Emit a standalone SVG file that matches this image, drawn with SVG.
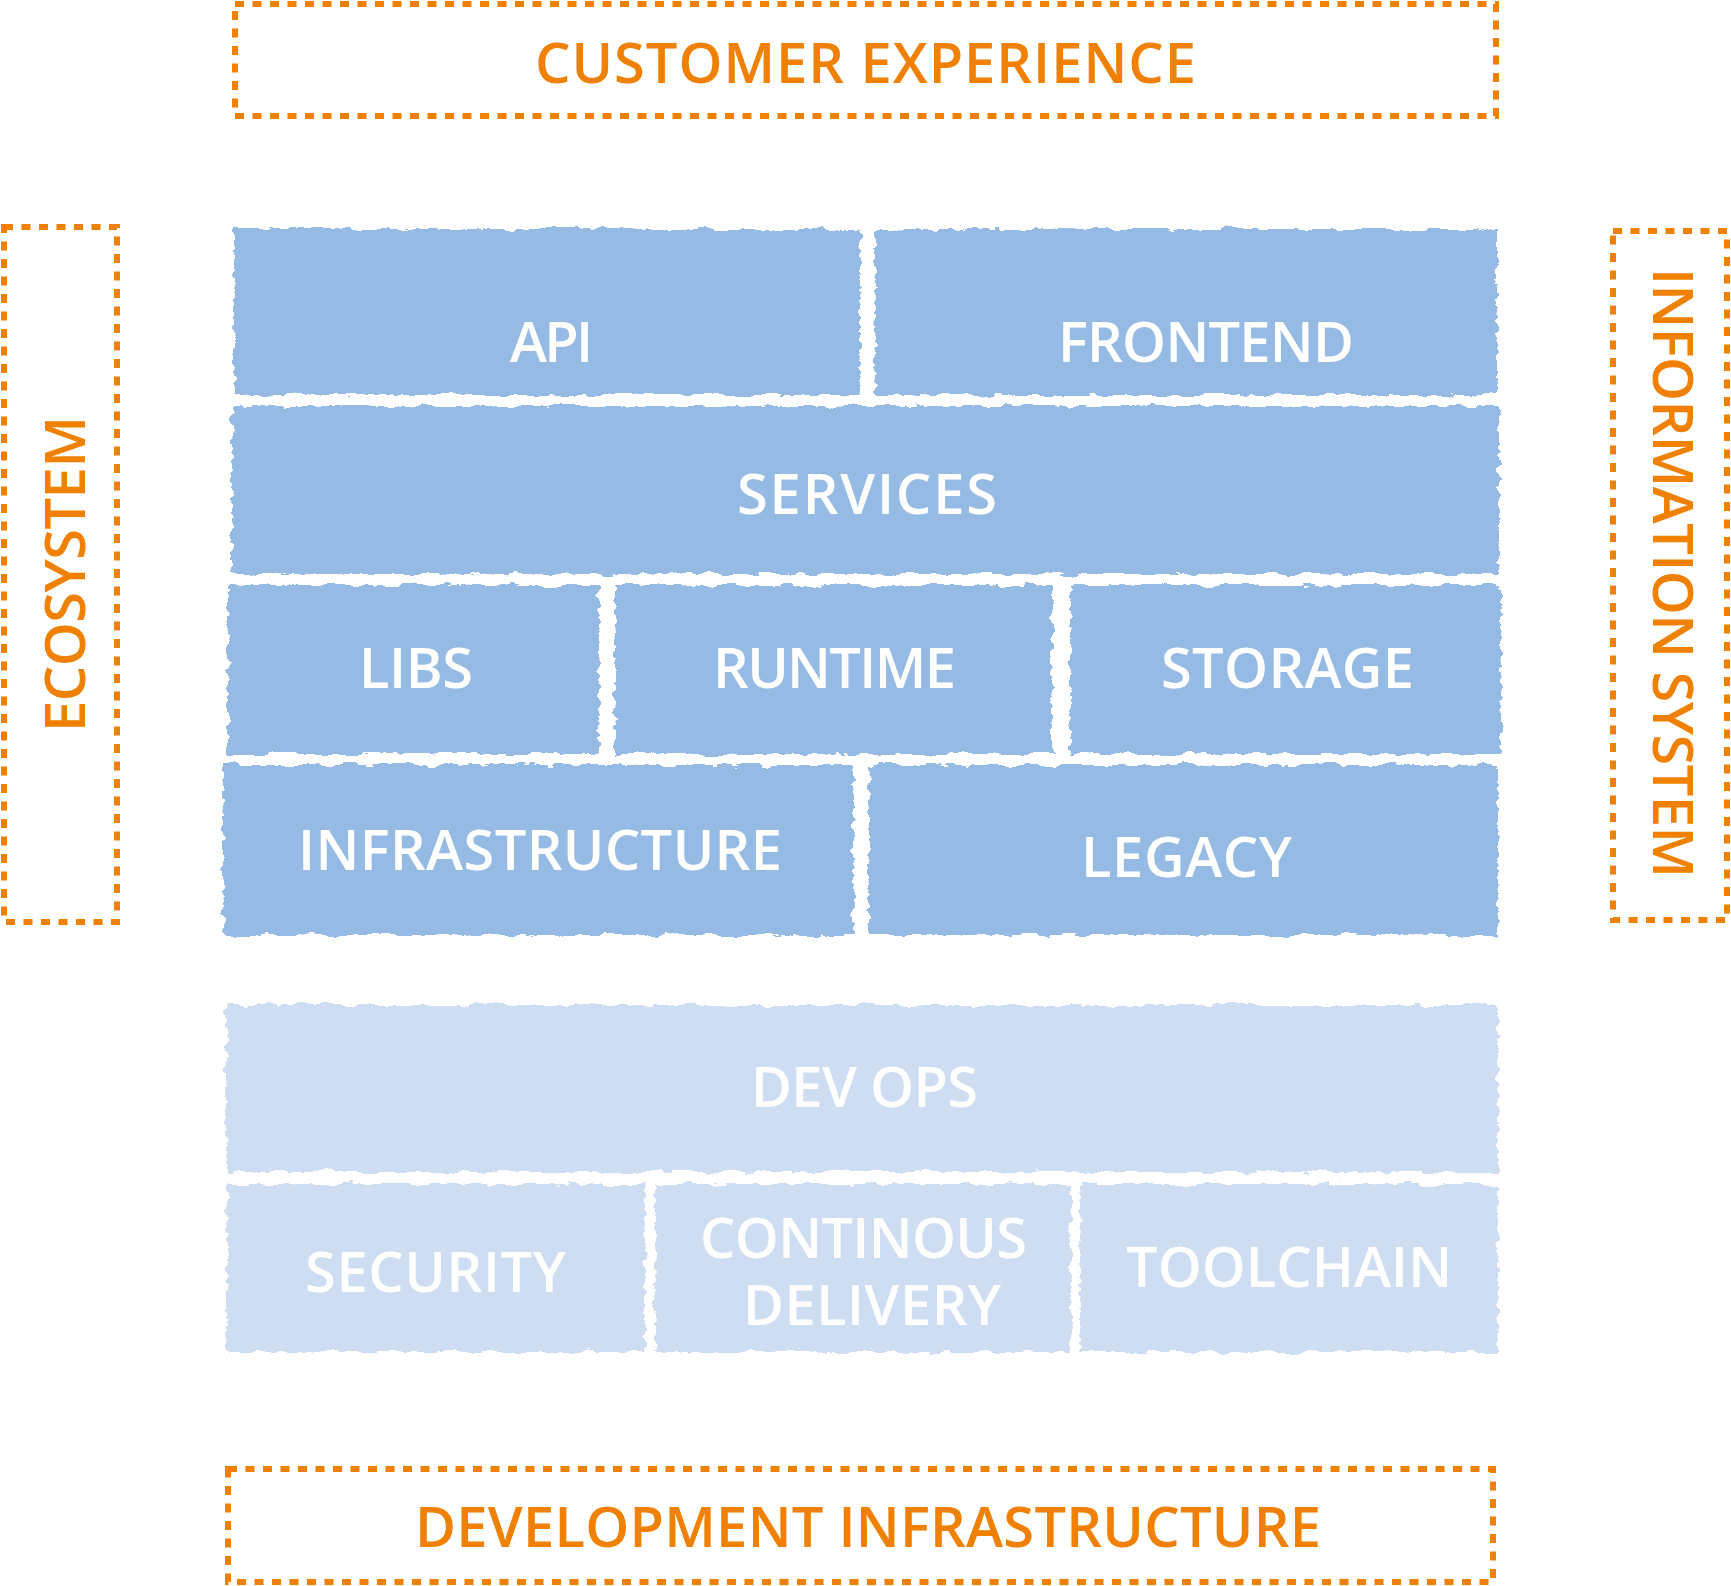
<svg xmlns="http://www.w3.org/2000/svg" width="1731" height="1586" viewBox="0 0 1731 1586">
<style>
.frame{fill:none;stroke:#f08000;stroke-width:6;stroke-dasharray:9 8.5}
.olab{font-family:"Open Sans",Lato,"Liberation Sans",sans-serif;font-weight:600;font-size:56px;fill:#f08000}
.blab{font-family:"Open Sans",Lato,"Liberation Sans",sans-serif;font-weight:600;font-size:56px;fill:#ffffff}
.dark{fill:#95bae4}
.light{fill:#cfddf3}
</style>
<defs>
<filter id="rough" x="-3%" y="-6%" width="106%" height="112%">
<feTurbulence type="fractalNoise" baseFrequency="0.05 0.12" numOctaves="4" seed="7" result="n"/>
<feDisplacementMap in="SourceGraphic" in2="n" scale="10" xChannelSelector="R" yChannelSelector="G"/>
</filter>
</defs>
<rect width="1731" height="1586" fill="#ffffff"/>

<g id="customer-experience">
<rect class="frame" x="235" y="4" width="1261" height="112"/>
<text class="olab" x="535" y="83" textLength="661" lengthAdjust="spacing">CUSTOMER EXPERIENCE</text>
</g>
<g id="ecosystem">
<rect class="frame" x="4" y="227" width="113" height="695"/>
<text class="olab" transform="translate(85 732) rotate(-90)" x="0" y="0" textLength="316" lengthAdjust="spacing">ECOSYSTEM</text>
</g>
<g id="information-system">
<rect class="frame" x="1613" y="231" width="114" height="689"/>
<text class="olab" transform="translate(1653 268) rotate(90)" x="0" y="0" textLength="610" lengthAdjust="spacing">INFORMATION SYSTEM</text>
</g>
<g id="development-infrastructure">
<rect class="frame" x="228" y="1469" width="1265" height="113"/>
<text class="olab" x="415" y="1547" textLength="906" lengthAdjust="spacing">DEVELOPMENT INFRASTRUCTURE</text>
</g>

<g id="api">
<rect class="dark" x="234" y="229" width="626" height="166" filter="url(#rough)"/>
<text class="blab" x="510" y="362" textLength="83" lengthAdjust="spacing">API</text>
</g>
<g id="frontend">
<rect class="dark" x="875" y="229" width="622" height="166" filter="url(#rough)"/>
<text class="blab" x="1058" y="362" textLength="296" lengthAdjust="spacing">FRONTEND</text>
</g>
<g id="services">
<rect class="dark" x="232" y="406" width="1267" height="168" filter="url(#rough)"/>
<text class="blab" x="737" y="514" textLength="260" lengthAdjust="spacing">SERVICES</text>
</g>
<g id="libs">
<rect class="dark" x="228" y="585" width="371" height="169" filter="url(#rough)"/>
<text class="blab" x="359" y="688" textLength="114" lengthAdjust="spacing">LIBS</text>
</g>
<g id="runtime">
<rect class="dark" x="615" y="585" width="437" height="169" filter="url(#rough)"/>
<text class="blab" x="713" y="688" textLength="243" lengthAdjust="spacing">RUNTIME</text>
</g>
<g id="storage">
<rect class="dark" x="1070" y="585" width="431" height="169" filter="url(#rough)"/>
<text class="blab" x="1161" y="688" textLength="253" lengthAdjust="spacing">STORAGE</text>
</g>
<g id="infrastructure">
<rect class="dark" x="223" y="765" width="630" height="170" filter="url(#rough)"/>
<text class="blab" x="298" y="870" textLength="484" lengthAdjust="spacing">INFRASTRUCTURE</text>
</g>
<g id="legacy">
<rect class="dark" x="869" y="765" width="629" height="170" filter="url(#rough)"/>
<text class="blab" x="1081" y="877" textLength="211" lengthAdjust="spacing">LEGACY</text>
</g>
<g id="dev-ops">
<rect class="light" x="226" y="1005" width="1272" height="167" filter="url(#rough)"/>
<text class="blab" x="751" y="1107" textLength="227" lengthAdjust="spacing">DEV OPS</text>
</g>
<g id="security">
<rect class="light" x="227" y="1184" width="418" height="168" filter="url(#rough)"/>
<text class="blab" x="305" y="1292" textLength="261" lengthAdjust="spacing">SECURITY</text>
</g>
<g id="continous-delivery">
<rect class="light" x="655" y="1184" width="416" height="168" filter="url(#rough)"/>
<text class="blab" x="700" y="1258" textLength="327" lengthAdjust="spacing">CONTINOUS</text>
<text class="blab" x="743" y="1325" textLength="258" lengthAdjust="spacing">DELIVERY</text>
</g>
<g id="toolchain">
<rect class="light" x="1080" y="1184" width="418" height="168" filter="url(#rough)"/>
<text class="blab" x="1126" y="1287" textLength="326" lengthAdjust="spacing">TOOLCHAIN</text>
</g>
<g id="connectors"></g>
</svg>
